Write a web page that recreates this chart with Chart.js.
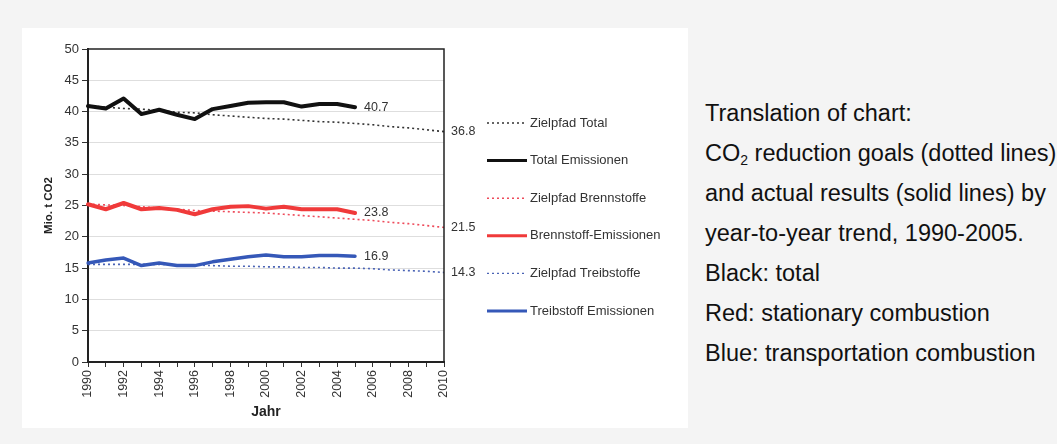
<!DOCTYPE html>
<html><head><meta charset="utf-8">
<script src="https://cdn.jsdelivr.net/npm/chart.js@4"></script>
<style>
html,body{margin:0;padding:0;background:#f4f4f4;width:1057px;height:444px;overflow:hidden;font-family:"Liberation Sans",Arial,sans-serif;}
#panel{position:absolute;left:22px;top:28px;width:666px;height:400px;background:#fff;}
#note{position:absolute;left:705px;top:93px;font-size:23.5px;line-height:40px;color:#111;white-space:nowrap;}
#note sub{font-size:14px;vertical-align:-4px;line-height:0;}
</style></head><body>
<div id="panel"><canvas id="c" width="666" height="400"></canvas></div>
<div id="note">Translation of chart:<br>CO<sub>2</sub> reduction goals (dotted lines)<br>and actual results (solid lines) by<br>year-to-year trend, 1990-2005.<br>Black: total<br>Red: stationary combustion<br>Blue: transportation combustion</div>
<script>
const years = ['1990','1991','1992','1993','1994','1995','1996','1997','1998','1999','2000','2001','2002','2003','2004','2005','2006','2007','2008','2009','2010'];
const totalTarget = [40.9,40.7,40.5,40.4,40.2,39.9,39.8,39.5,39.3,39.1,38.9,38.8,38.6,38.4,38.3,38.1,37.9,37.6,37.4,37.1,36.8];
const totalActual = [40.9,40.5,42.1,39.6,40.3,39.5,38.8,40.4,40.9,41.4,41.5,41.5,40.8,41.2,41.2,40.7];
const fuelTarget = [25.2,25.1,25.0,24.8,24.6,24.4,24.2,24.1,24.0,23.9,23.8,23.6,23.4,23.2,23.0,22.8,22.6,22.3,22.1,21.8,21.5];
const fuelActual = [25.2,24.4,25.4,24.4,24.6,24.3,23.6,24.4,24.8,24.9,24.5,24.8,24.4,24.4,24.4,23.8];
const transTarget = [15.6,15.6,15.6,15.6,15.6,15.5,15.5,15.4,15.3,15.3,15.2,15.2,15.1,15.1,15.0,15.0,14.9,14.7,14.6,14.5,14.3];
const transActual = [15.8,16.3,16.6,15.4,15.8,15.4,15.4,16.0,16.4,16.8,17.1,16.8,16.8,17.0,17.0,16.9];
const seriesNames = ['Zielpfad Total','Total Emissionen','Zielpfad Brennstoffe','Brennstoff-Emissionen','Zielpfad Treibstoffe','Treibstoff Emissionen'];
const yTitle = 'Mio. t CO2';
const xTitle = 'Jahr';

const FONT = '"Liberation Sans", Arial, sans-serif';
function dotted(label, data, color){
  return {label, data, borderColor: color, borderWidth: 1.6, borderDash:[2,3], pointRadius:0, tension:0, order:1, isTarget:true, fill:false};
}
function solid(label, data, color, w){
  return {label, data, borderColor: color, borderWidth: w, pointRadius:0, tension:0, order:0, isTarget:false, fill:false, borderJoinStyle:'round', borderCapStyle:'round'};
}
const datasets = [
  dotted(seriesNames[0], totalTarget, '#333333'),
  solid(seriesNames[1], totalActual, '#111111', 4),
  dotted(seriesNames[2], fuelTarget, '#ee4a5a'),
  solid(seriesNames[3], fuelActual, '#f03a3a', 4),
  dotted(seriesNames[4], transTarget, '#4a63b5'),
  solid(seriesNames[5], transActual, '#3558b8', 3.5)
];

const annot = {
  id:'annot',
  afterDatasetsDraw(chart){
    const ctx = chart.ctx, a = chart.chartArea;
    ctx.save();
    ctx.strokeStyle = '#222'; ctx.lineWidth = 1.5;
    ctx.beginPath(); ctx.moveTo(a.left, a.top); ctx.lineTo(a.right, a.top); ctx.lineTo(a.right, a.bottom); ctx.stroke();
    ctx.font = '12.5px ' + FONT; ctx.fillStyle = '#333'; ctx.textBaseline = 'middle'; ctx.textAlign = 'left';
    chart.data.datasets.forEach((ds, i) => {
      const meta = chart.getDatasetMeta(i);
      const last = meta.data[meta.data.length - 1];
      const x = ds.isTarget ? a.right + 7 : last.x + 9;
      ctx.fillText(ds.data[ds.data.length - 1].toFixed(1), x, last.y);
    });
    // legend
    chart.data.datasets.forEach((ds, i) => {
      const y = 95 + i * 37.6;
      ctx.beginPath();
      ctx.strokeStyle = ds.borderColor;
      ctx.lineWidth = ds.isTarget ? 1.4 : 3;
      ctx.setLineDash(ds.isTarget ? [2,3] : []);
      ctx.moveTo(465, y); ctx.lineTo(505, y); ctx.stroke();
      ctx.setLineDash([]);
      ctx.fillStyle = '#333';
      ctx.font = '13px ' + FONT;
      ctx.fillText(ds.label, 508, y);
    });
    ctx.restore();
  }
};

new Chart(document.getElementById('c'), {
  type:'line',
  data:{labels: years, datasets},
  options:{
    responsive:false, animation:false,
    layout:{padding:{left:0, top:21, right:244, bottom:0}},
    plugins:{legend:{display:false}, tooltip:{enabled:false}},
    scales:{
      x:{
        offset:false,
        grid:{color:'rgba(0,0,0,0)', drawOnChartArea:false, tickColor:'#333', tickLength:5, lineWidth:1},
        border:{color:'#222', width:2},
        ticks:{autoSkip:false, minRotation:90, maxRotation:90, padding:3, color:'#333', font:{family:FONT, size:12.5},
          callback:function(v, i){ return i % 2 === 0 ? this.getLabelForValue(v) : ''; }},
        title:{display:true, text:xTitle, color:'#222', font:{family:FONT, size:14, weight:'bold'}, padding:{top:0, bottom:7}},
        afterFit(s){ s.height = 66; }
      },
      y:{
        min:0, max:50,
        grid:{color:(c)=> (c.tick && (c.tick.value===50 || c.tick.value===0)) ? 'rgba(0,0,0,0)' : '#dedede', tickColor:'#333', tickLength:6, lineWidth:1},
        border:{color:'#222', width:2},
        ticks:{stepSize:5, padding:3, color:'#333', font:{family:FONT, size:13}},
        title:{display:true, text:yTitle, color:'#222', font:{family:FONT, size:11.5, weight:'bold'}, padding:{top:20, bottom:0}},
        afterFit(s){ s.width = 66; }
      }
    }
  },
  plugins:[annot]
});
</script>
</body></html>
